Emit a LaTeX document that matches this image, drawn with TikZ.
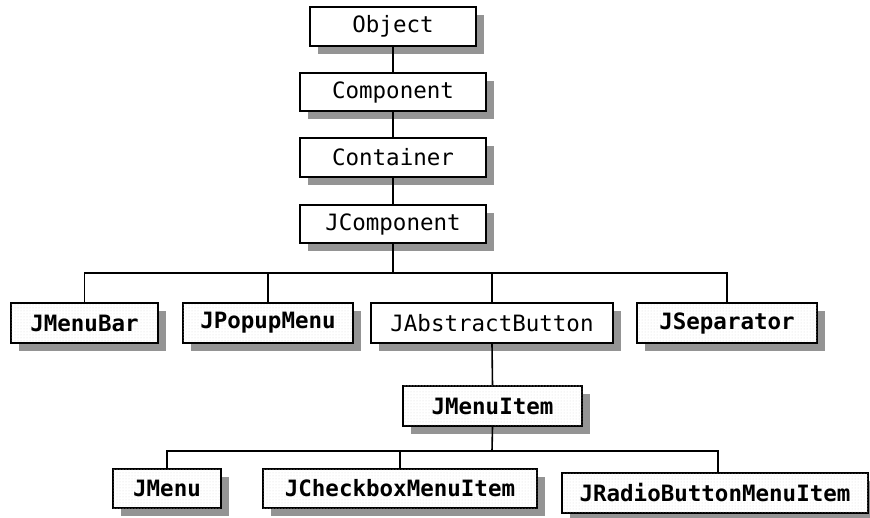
\documentclass[tikz,border=0pt]{standalone}
\usepackage{fontspec}
\newfontfamily\monofont{DejaVu Sans Mono}
\usetikzlibrary{shadows,patterns}
\begin{document}
\begin{tikzpicture}[x=1pt,y=-1pt,
  cls/.style={draw=black, line width=1.6pt, fill=white, inner sep=0pt,
    font=\monofont\fontsize{22.5}{26}\selectfont,
    general shadow={fill=black!42, shadow xshift=8pt, shadow yshift=-8pt}},
  swing/.style={cls, font=\monofont\bfseries\fontsize{22.5}{26}\selectfont,
    postaction={pattern=dots, pattern color=black!14}},
  link/.style={line width=1.6pt}]
\useasboundingbox (0,0) rectangle (870,518);
% top chain
\node[cls, minimum width=166pt, minimum height=39pt] (obj) at (393,26.5) {Object};
\node[cls, minimum width=186pt, minimum height=38pt] (comp) at (393,92) {Component};
\node[cls, minimum width=186pt, minimum height=39pt] (cont) at (393,157.5) {Container};
\node[cls, minimum width=186pt, minimum height=38pt] (jcomp) at (393,224) {JComponent};
% second row
\node[swing, minimum width=147pt, minimum height=40pt] (mbar) at (84.5,323) {JMenuBar};
\node[swing, minimum width=170pt, minimum height=40pt] (popup) at (268,323) {JPopupMenu};
\node[cls, minimum width=242pt, minimum height=40pt] (abs) at (492,323) {JAbstractButton};
\node[swing, minimum width=180pt, minimum height=40pt] (sep) at (727,323) {JSeparator};
% menu item
\node[swing, minimum width=179pt, minimum height=40pt] (item) at (492.5,406) {JMenuItem};
% bottom row
\node[swing, minimum width=108pt, minimum height=39pt] (menu) at (167,488.5) {JMenu};
\node[swing, minimum width=274pt, minimum height=39pt] (check) at (400,488.5) {JCheckboxMenuItem};
\node[swing, minimum width=306pt, minimum height=40pt] (radio) at (715,493) {JRadioButtonMenuItem};
% buses
\coordinate (busA) at (393,273);
\coordinate (busB) at (492,451);
% connectors
\draw[link] (obj.south) -- (comp.north);
\draw[link] (comp.south) -- (cont.north);
\draw[link] (cont.south) -- (jcomp.north);
\draw[link] (jcomp.south) -- (busA);
\draw[link] (mbar.north) -- (mbar.north |- busA) -- (sep.north |- busA) -- (sep.north);
\draw[link] (popup.north) -- (popup.north |- busA);
\draw[link] (abs.north) -- (abs.north |- busA);
\draw[link] (abs.south) -- (item.north);
\draw[link] (item.south) -- (busB);
\draw[link] (menu.north) -- (menu.north |- busB) -- ([xshift=3pt]radio.north |- busB) -- ([xshift=3pt]radio.north);
\draw[link] (check.north) -- (check.north |- busB);
\end{tikzpicture}
\end{document}
